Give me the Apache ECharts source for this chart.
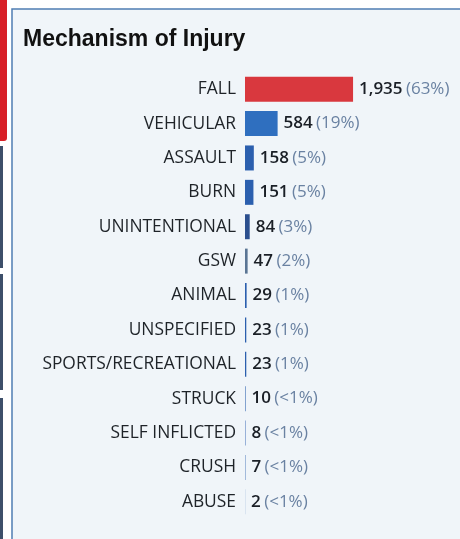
<!DOCTYPE html>
<html>
<head>
<meta charset="utf-8">
<script src="https://cdn.jsdelivr.net/npm/echarts@6/dist/echarts.min.js"></script>
<style>
html,body{margin:0;padding:0;background:#ffffff;}
#chart{width:460px;height:539px;}
</style>
</head>
<body>
<div id="chart"></div>
<script>
var categories = ["FALL","VEHICULAR","ASSAULT","BURN","UNINTENTIONAL","GSW","ANIMAL","UNSPECIFIED","SPORTS/RECREATIONAL","STRUCK","SELF INFLICTED","CRUSH","ABUSE"];
var counts = [1935,584,158,151,84,47,29,23,23,10,8,7,2];
var percents = ["63%","19%","5%","5%","3%","2%","1%","1%","1%","<1%","<1%","<1%","<1%"];
var barColors = ["#d9383e","#2f6fbf","#2b5fae","#2b5fae","#2b4f8e","#5a7594","#2b5fae","#2b5fae","#2b5fae","#2b5fae","#2b5fae","#2b5fae","#2b5fae"];

var chart = echarts.init(document.getElementById('chart'));
var data = counts.map(function(v,i){
  return {value:v, itemStyle:{color:barColors[i]}};
});
chart.setOption({
  backgroundColor:'#ffffff',
  animation:false,
  graphic:[
    {type:'rect', shape:{x:12,y:9,width:460,height:540}, style:{fill:'#f0f5f9',stroke:'#4f7db3',lineWidth:1.5}, z:-10},
    {type:'rect', shape:{x:0,y:-5,width:7,height:146,r:[0,0,3,0]}, style:{fill:'#d81f26'}, z:-5},
    {type:'rect', shape:{x:0,y:146,width:3,height:122}, style:{fill:'#3d4f6a'}, z:-5},
    {type:'rect', shape:{x:0,y:274,width:3,height:116}, style:{fill:'#3d4f6a'}, z:-5},
    {type:'rect', shape:{x:0,y:398,width:3,height:145}, style:{fill:'#3d4f6a'}, z:-5}
  ],
  title:{
    text:'Mechanism of Injury',
    left:18, top:23,
    textStyle:{fontFamily:"'Liberation Sans Narrow','Liberation Sans',Arial,sans-serif",fontWeight:'bold',fontSize:23,color:'#111111'}
  },
  grid:{left:245,right:0,top:72,height:447,containLabel:false},
  xAxis:{type:'value',min:0,max:3850,show:false},
  yAxis:{
    type:'category',data:categories,inverse:true,
    axisLine:{show:false},axisTick:{show:false},
    axisLabel:{margin:9,fontFamily:"'Open Sans',sans-serif",fontSize:17.4,color:'#1e2328'}
  },
  series:[{
    type:'bar',data:data,barWidth:25,
    label:{
      show:true,position:'right',distance:6,
      formatter:function(p){return '{v|'+counts[p.dataIndex].toLocaleString('en-US')+'} {p|('+percents[p.dataIndex]+')}';},
      rich:{
        v:{fontFamily:"'Open Sans',sans-serif",fontWeight:600,fontSize:17,color:'#1a1f26'},
        p:{fontFamily:"'Open Sans',sans-serif",fontSize:17,color:'#6a82a2'}
      }
    }
  }]
});
</script>
</body>
</html>
